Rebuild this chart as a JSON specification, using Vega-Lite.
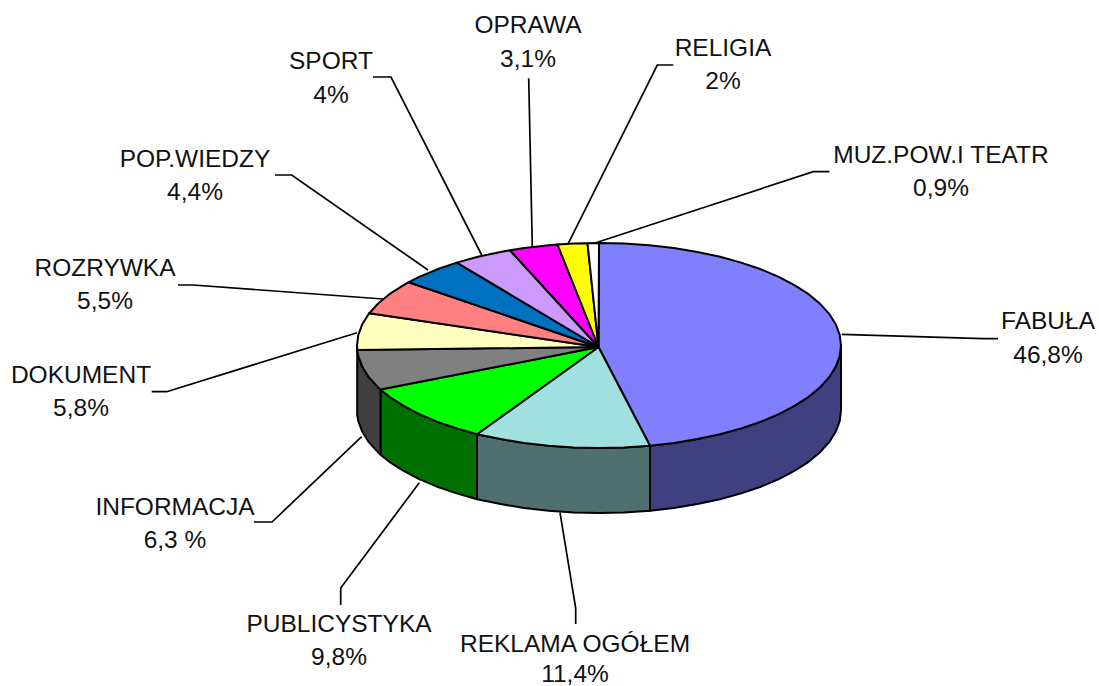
{"$schema":"https://vega.github.io/schema/vega-lite/v6.json","width":1099,"height":686,"padding":0,"autosize":{"type":"none"},"background":"white","view":{"stroke":null},
"datasets":{
"sides":[
{"name":"FABUŁA bok","x":841,"y":345.5,"y2":410.5},{"name":"FABUŁA bok","x":839.7,"y":356.2,"y2":421.2},{"name":"FABUŁA bok","x":835.7,"y":366.8,"y2":431.8},{"name":"FABUŁA bok","x":829.2,"y":377.2,"y2":442.2},{"name":"FABUŁA bok","x":820.1,"y":387.2,"y2":452.2},{"name":"FABUŁA bok","x":808.6,"y":396.8,"y2":461.8},{"name":"FABUŁA bok","x":794.8,"y":405.7,"y2":470.7},{"name":"FABUŁA bok","x":778.8,"y":414.1,"y2":479.1},{"name":"FABUŁA bok","x":760.9,"y":421.7,"y2":486.7},{"name":"FABUŁA bok","x":741.2,"y":428.4,"y2":493.4},{"name":"FABUŁA bok","x":720,"y":434.3,"y2":499.3},{"name":"FABUŁA bok","x":697.4,"y":439.1,"y2":504.1},{"name":"FABUŁA bok","x":673.8,"y":443,"y2":508},{"name":"FABUŁA bok","x":650,"y":445.8,"y2":510.8},
{"name":"REKLAMA bok","x":650,"y":445.8,"y2":510.8},{"name":"REKLAMA bok","x":624.3,"y":447.4,"y2":512.4},{"name":"REKLAMA bok","x":599,"y":448,"y2":513},{"name":"REKLAMA bok","x":573.7,"y":447.4,"y2":512.4},{"name":"REKLAMA bok","x":548.7,"y":445.8,"y2":510.8},{"name":"REKLAMA bok","x":524.2,"y":443,"y2":508},{"name":"REKLAMA bok","x":500.6,"y":439.1,"y2":504.1},{"name":"REKLAMA bok","x":477,"y":434.2,"y2":499.2},
{"name":"PUBLICYSTYKA bok","x":477,"y":434.2,"y2":499.2},{"name":"PUBLICYSTYKA bok","x":456.8,"y":428.4,"y2":493.4},{"name":"PUBLICYSTYKA bok","x":437.1,"y":421.7,"y2":486.7},{"name":"PUBLICYSTYKA bok","x":419.2,"y":414.1,"y2":479.1},{"name":"PUBLICYSTYKA bok","x":403.2,"y":405.7,"y2":470.7},{"name":"PUBLICYSTYKA bok","x":389.4,"y":396.8,"y2":461.8},{"name":"PUBLICYSTYKA bok","x":380.5,"y":389.6,"y2":454.6},
{"name":"INFORMACJA bok","x":380.5,"y":389.6,"y2":454.6},{"name":"INFORMACJA bok","x":377.9,"y":387.2,"y2":452.2},{"name":"INFORMACJA bok","x":368.8,"y":377.2,"y2":442.2},{"name":"INFORMACJA bok","x":362.3,"y":366.8,"y2":431.8},{"name":"INFORMACJA bok","x":358.3,"y":356.2,"y2":421.2},{"name":"INFORMACJA bok","x":357.2,"y":350,"y2":415}
],
"wedges":[
{"name":"FABUŁA","i":0,"x":598.5,"y":347},{"name":"FABUŁA","i":1,"x":599,"y":243},{"name":"FABUŁA","i":2,"x":624.3,"y":243.6},{"name":"FABUŁA","i":3,"x":649.3,"y":245.2},{"name":"FABUŁA","i":4,"x":673.8,"y":248},{"name":"FABUŁA","i":5,"x":697.4,"y":251.9},{"name":"FABUŁA","i":6,"x":720,"y":256.7},{"name":"FABUŁA","i":7,"x":741.2,"y":262.6},{"name":"FABUŁA","i":8,"x":760.9,"y":269.3},{"name":"FABUŁA","i":9,"x":778.8,"y":276.9},{"name":"FABUŁA","i":10,"x":794.8,"y":285.3},{"name":"FABUŁA","i":11,"x":808.6,"y":294.2},{"name":"FABUŁA","i":12,"x":820.1,"y":303.8},{"name":"FABUŁA","i":13,"x":829.2,"y":313.8},{"name":"FABUŁA","i":14,"x":835.7,"y":324.2},{"name":"FABUŁA","i":15,"x":839.7,"y":334.8},{"name":"FABUŁA","i":16,"x":841,"y":345.5},{"name":"FABUŁA","i":17,"x":839.7,"y":356.2},{"name":"FABUŁA","i":18,"x":835.7,"y":366.8},{"name":"FABUŁA","i":19,"x":829.2,"y":377.2},{"name":"FABUŁA","i":20,"x":820.1,"y":387.2},{"name":"FABUŁA","i":21,"x":808.6,"y":396.8},{"name":"FABUŁA","i":22,"x":794.8,"y":405.7},{"name":"FABUŁA","i":23,"x":778.8,"y":414.1},{"name":"FABUŁA","i":24,"x":760.9,"y":421.7},{"name":"FABUŁA","i":25,"x":741.2,"y":428.4},{"name":"FABUŁA","i":26,"x":720,"y":434.3},{"name":"FABUŁA","i":27,"x":697.4,"y":439.1},{"name":"FABUŁA","i":28,"x":673.8,"y":443},{"name":"FABUŁA","i":29,"x":650,"y":445.8},{"name":"FABUŁA","i":30,"x":598.5,"y":347},
{"name":"REKLAMA","i":0,"x":598.5,"y":347},{"name":"REKLAMA","i":1,"x":650,"y":445.8},{"name":"REKLAMA","i":2,"x":624.3,"y":447.4},{"name":"REKLAMA","i":3,"x":599,"y":448},{"name":"REKLAMA","i":4,"x":573.7,"y":447.4},{"name":"REKLAMA","i":5,"x":548.7,"y":445.8},{"name":"REKLAMA","i":6,"x":524.2,"y":443},{"name":"REKLAMA","i":7,"x":500.6,"y":439.1},{"name":"REKLAMA","i":8,"x":477,"y":434.2},{"name":"REKLAMA","i":9,"x":598.5,"y":347},
{"name":"PUBLICYSTYKA","i":0,"x":598.5,"y":347},{"name":"PUBLICYSTYKA","i":1,"x":477,"y":434.2},{"name":"PUBLICYSTYKA","i":2,"x":456.8,"y":428.4},{"name":"PUBLICYSTYKA","i":3,"x":437.1,"y":421.7},{"name":"PUBLICYSTYKA","i":4,"x":419.2,"y":414.1},{"name":"PUBLICYSTYKA","i":5,"x":403.2,"y":405.7},{"name":"PUBLICYSTYKA","i":6,"x":389.4,"y":396.8},{"name":"PUBLICYSTYKA","i":7,"x":380.5,"y":389.6},{"name":"PUBLICYSTYKA","i":8,"x":598.5,"y":347},
{"name":"INFORMACJA","i":0,"x":598.5,"y":347},{"name":"INFORMACJA","i":1,"x":380.5,"y":389.6},{"name":"INFORMACJA","i":2,"x":377.9,"y":387.2},{"name":"INFORMACJA","i":3,"x":368.8,"y":377.2},{"name":"INFORMACJA","i":4,"x":362.3,"y":366.8},{"name":"INFORMACJA","i":5,"x":358.3,"y":356.2},{"name":"INFORMACJA","i":6,"x":357.2,"y":350},{"name":"INFORMACJA","i":7,"x":598.5,"y":347},
{"name":"DOKUMENT","i":0,"x":598.5,"y":347},{"name":"DOKUMENT","i":1,"x":357.2,"y":350},{"name":"DOKUMENT","i":2,"x":357,"y":345.5},{"name":"DOKUMENT","i":3,"x":358.3,"y":334.8},{"name":"DOKUMENT","i":4,"x":362.3,"y":324.2},{"name":"DOKUMENT","i":5,"x":368.8,"y":313.8},{"name":"DOKUMENT","i":6,"x":369.3,"y":313.2},{"name":"DOKUMENT","i":7,"x":598.5,"y":347},
{"name":"ROZRYWKA","i":0,"x":598.5,"y":347},{"name":"ROZRYWKA","i":1,"x":369.3,"y":313.2},{"name":"ROZRYWKA","i":2,"x":377.9,"y":303.8},{"name":"ROZRYWKA","i":3,"x":389.4,"y":294.2},{"name":"ROZRYWKA","i":4,"x":403.2,"y":285.3},{"name":"ROZRYWKA","i":5,"x":408.7,"y":282.2},{"name":"ROZRYWKA","i":6,"x":598.5,"y":347},
{"name":"POP.WIEDZY","i":0,"x":598.5,"y":347},{"name":"POP.WIEDZY","i":1,"x":408.7,"y":282.2},{"name":"POP.WIEDZY","i":2,"x":419.2,"y":276.9},{"name":"POP.WIEDZY","i":3,"x":437.1,"y":269.3},{"name":"POP.WIEDZY","i":4,"x":456.8,"y":262.6},{"name":"POP.WIEDZY","i":5,"x":598.5,"y":347},
{"name":"SPORT","i":0,"x":598.5,"y":347},{"name":"SPORT","i":1,"x":456.8,"y":262.6},{"name":"SPORT","i":2,"x":478,"y":256.7},{"name":"SPORT","i":3,"x":500.6,"y":251.9},{"name":"SPORT","i":4,"x":509.9,"y":250.2},{"name":"SPORT","i":5,"x":598.5,"y":347},
{"name":"OPRAWA","i":0,"x":598.5,"y":347},{"name":"OPRAWA","i":1,"x":509.9,"y":250.2},{"name":"OPRAWA","i":2,"x":524.2,"y":248},{"name":"OPRAWA","i":3,"x":548.7,"y":245.2},{"name":"OPRAWA","i":4,"x":557.5,"y":244.5},{"name":"OPRAWA","i":5,"x":598.5,"y":347},
{"name":"RELIGIA","i":0,"x":598.5,"y":347},{"name":"RELIGIA","i":1,"x":557.5,"y":244.5},{"name":"RELIGIA","i":2,"x":573.7,"y":243.6},{"name":"RELIGIA","i":3,"x":587.5,"y":243.2},{"name":"RELIGIA","i":4,"x":598.5,"y":347},
{"name":"MUZ.POW.I TEATR","i":0,"x":598.5,"y":347},{"name":"MUZ.POW.I TEATR","i":1,"x":587.5,"y":243.2},{"name":"MUZ.POW.I TEATR","i":2,"x":599,"y":243},{"name":"MUZ.POW.I TEATR","i":3,"x":598.5,"y":347}
],
"leaders":[
{"name":"FABUŁA","i":0,"x":841.7,"y":334.3},{"name":"FABUŁA","i":1,"x":983,"y":338.7},{"name":"FABUŁA","i":2,"x":998,"y":338.7},
{"name":"REKLAMA","i":0,"x":560,"y":512.7},{"name":"REKLAMA","i":1,"x":575.7,"y":608},{"name":"REKLAMA","i":2,"x":575.7,"y":624},
{"name":"PUBLICYSTYKA","i":0,"x":419.3,"y":482.7},{"name":"PUBLICYSTYKA","i":1,"x":340.7,"y":588},{"name":"PUBLICYSTYKA","i":2,"x":340.7,"y":605},
{"name":"INFORMACJA","i":0,"x":361.7,"y":436.7},{"name":"INFORMACJA","i":1,"x":272,"y":522},{"name":"INFORMACJA","i":2,"x":254,"y":522},
{"name":"DOKUMENT","i":0,"x":357,"y":332.7},{"name":"DOKUMENT","i":1,"x":166.7,"y":391.7},{"name":"DOKUMENT","i":2,"x":151.7,"y":391.7},
{"name":"ROZRYWKA","i":0,"x":383,"y":299},{"name":"ROZRYWKA","i":1,"x":193,"y":285},{"name":"ROZRYWKA","i":2,"x":178,"y":285},
{"name":"POP.WIEDZY","i":0,"x":428,"y":270},{"name":"POP.WIEDZY","i":1,"x":291.7,"y":175},{"name":"POP.WIEDZY","i":2,"x":275,"y":175},
{"name":"SPORT","i":0,"x":481.7,"y":255},{"name":"SPORT","i":1,"x":391,"y":77},{"name":"SPORT","i":2,"x":373,"y":77},
{"name":"OPRAWA","i":0,"x":532.3,"y":246.7},{"name":"OPRAWA","i":1,"x":528.7,"y":78.3},
{"name":"RELIGIA","i":0,"x":568.3,"y":243.3},{"name":"RELIGIA","i":1,"x":657.3,"y":65},{"name":"RELIGIA","i":2,"x":673.3,"y":65},
{"name":"MUZ.POW.I TEATR","i":0,"x":595,"y":243},{"name":"MUZ.POW.I TEATR","i":1,"x":813.3,"y":171.7},{"name":"MUZ.POW.I TEATR","i":2,"x":829.3,"y":171.7}
],
"labels":[
{"t":"FABUŁA","x":1048,"y":322},{"t":"46,8%","x":1048,"y":356},
{"t":"REKLAMA OGÓŁEM","x":575,"y":645},{"t":"11,4%","x":575,"y":675},
{"t":"PUBLICYSTYKA","x":339,"y":625},{"t":"9,8%","x":339,"y":658},
{"t":"INFORMACJA","x":175,"y":508},{"t":"6,3 %","x":175,"y":541},
{"t":"DOKUMENT","x":81,"y":376},{"t":"5,8%","x":81,"y":409},
{"t":"ROZRYWKA","x":105,"y":269},{"t":"5,5%","x":105,"y":302},
{"t":"POP.WIEDZY","x":195,"y":160},{"t":"4,4%","x":195,"y":193},
{"t":"SPORT","x":331,"y":62},{"t":"4%","x":331,"y":96},
{"t":"OPRAWA","x":528,"y":26},{"t":"3,1%","x":528,"y":60},
{"t":"RELIGIA","x":723,"y":49},{"t":"2%","x":723,"y":82},
{"t":"MUZ.POW.I TEATR","x":941,"y":156},{"t":"0,9%","x":941,"y":189}
]},
"encoding":{"x":{"field":"x","type":"quantitative","scale":{"domain":[0,1099],"nice":false,"zero":false},"axis":null},"y":{"field":"y","type":"quantitative","scale":{"domain":[686,0],"nice":false,"zero":false},"axis":null}},
"layer":[
{"data":{"name":"leaders"},"mark":{"type":"line","stroke":"black","strokeWidth":1.7},"encoding":{"detail":{"field":"name"},"order":{"field":"i","type":"quantitative"}}},
{"data":{"name":"sides"},"mark":{"type":"area","stroke":"black","strokeWidth":2,"strokeJoin":"round","opacity":1},"encoding":{"y2":{"field":"y2"},"fill":{"field":"name","type":"nominal","legend":null,"scale":{"domain":["FABUŁA bok","REKLAMA bok","PUBLICYSTYKA bok","INFORMACJA bok","FABUŁA","REKLAMA","PUBLICYSTYKA","INFORMACJA","DOKUMENT","ROZRYWKA","POP.WIEDZY","SPORT","OPRAWA","RELIGIA","MUZ.POW.I TEATR"],"range":["#404080","#507070","#007000","#404040","#8080FF","#A0E0E0","#00FF00","#808080","#FFFFC0","#FF8080","#0070C0","#CC99FF","#FF00FF","#FFFF00","#FFFFFF"]}}}},
{"data":{"name":"wedges"},"mark":{"type":"line","stroke":"black","strokeWidth":2,"strokeJoin":"round"},"encoding":{"fill":{"field":"name","type":"nominal","legend":null},"order":{"field":"i","type":"quantitative"}}},
{"data":{"name":"labels"},"mark":{"type":"text","font":"Liberation Sans","fontSize":24.5,"baseline":"middle","align":"center","color":"#111111"},"encoding":{"text":{"field":"t","type":"nominal"}}}
]}
